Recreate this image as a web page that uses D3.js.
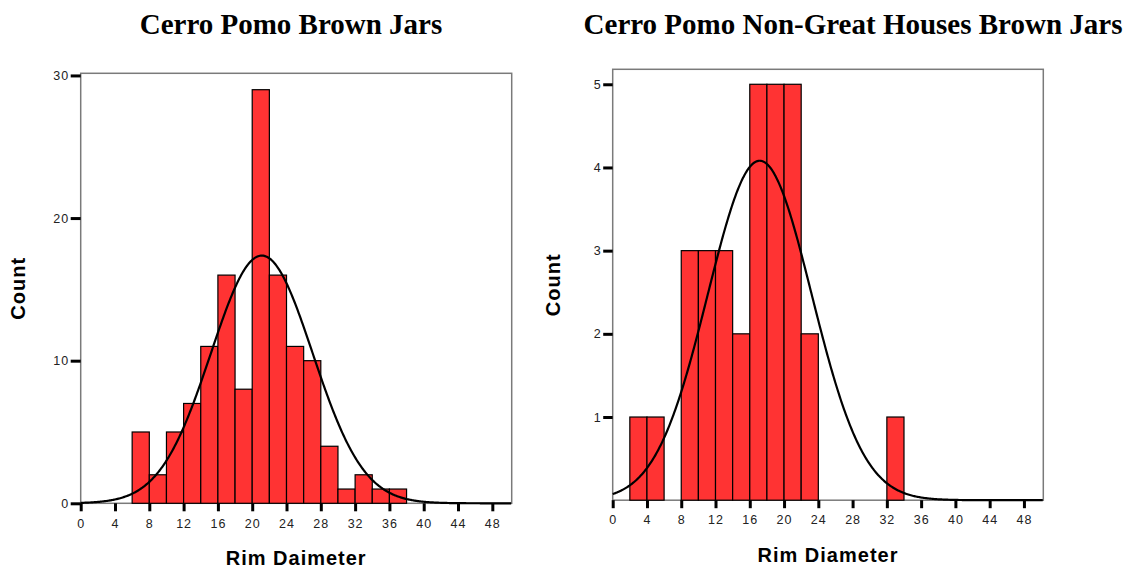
<!DOCTYPE html>
<html>
<head>
<meta charset="utf-8">
<script src="https://cdn.jsdelivr.net/npm/d3@7"></script>
<style>
  html, body { margin: 0; padding: 0; background: #fff; }
  svg { display: block; }
</style>
</head>
<body>
<svg id="chart" width="1129" height="568"></svg>
<script>
// Rim diameter histograms (2 cm bins, each bin covers (start, start + 2])
const binWidth = 2;

const allJarsBinStart = [6, 8, 10, 12, 14, 16, 18, 20, 22, 24, 26, 28, 30, 32, 34, 36];
const allJarsCount    = [5, 2, 5, 7, 11, 16, 8, 29, 16, 11, 10, 4, 1, 2, 1, 1];

const nonGreatBinStart = [2, 4, 8, 10, 12, 14, 16, 18, 20, 22, 32];
const nonGreatCount    = [1, 1, 3, 3, 3, 2, 5, 5, 5, 2, 1];

const xTickValues = [0, 4, 8, 12, 16, 20, 24, 28, 32, 36, 40, 44, 48];
const allJarsYTicks = [0, 10, 20, 30];
const nonGreatYTicks = [1, 2, 3, 4, 5];

const titles = ["Cerro Pomo Brown Jars", "Cerro Pomo Non-Great Houses Brown Jars"];
const xLabels = ["Rim Daimeter", "Rim Diameter"];
const yLabel = "Count";

const svg = d3.select("#chart");

// Normal curve fitted to the binned cases, scaled to counts per bin
function normalFit(starts, counts) {
  const values = [];
  starts.forEach((s, i) => { for (let k = 0; k < counts[i]; k++) values.push(s + binWidth); });
  const n = values.length;
  const mean = d3.mean(values);
  const sd = d3.deviation(values);
  return x => n * binWidth * Math.exp(-0.5 * ((x - mean) / sd) ** 2) / (sd * Math.sqrt(2 * Math.PI));
}

function drawPanel(p) {
  const g = svg.append("g");
  const x = d3.scaleLinear().domain([0, p.xMax]).range([p.left, p.right]);
  const y = d3.scaleLinear().domain([0, p.yMax]).range([p.bottom, p.top]);

  // plot frame
  g.append("rect")
    .attr("x", p.left).attr("y", p.top)
    .attr("width", p.right - p.left).attr("height", p.bottom - p.top)
    .attr("fill", "none").attr("stroke", "#7a7a7a").attr("stroke-width", 1.5);

  // bars
  g.selectAll("rect.bar").data(p.starts).join("rect")
    .attr("class", "bar")
    .attr("x", d => x(d))
    .attr("width", d => x(d + binWidth) - x(d))
    .attr("y", (d, i) => y(p.counts[i]))
    .attr("height", (d, i) => y(0) - y(p.counts[i]))
    .attr("fill", "#ff3333")
    .attr("stroke", "#000")
    .attr("stroke-width", 1.2);

  // fitted normal curve
  const f = normalFit(p.starts, p.counts);
  const xs = d3.range(0, p.xMax + 0.001, 0.1);
  g.append("path")
    .datum(xs)
    .attr("fill", "none")
    .attr("stroke", "#000")
    .attr("stroke-width", 2.2)
    .attr("d", d3.line().x(d => x(d)).y(d => y(f(d))).curve(d3.curveLinear));

  // x axis ticks and labels
  const xAxis = g.append("g").attr("transform", `translate(0,${p.bottom})`)
    .call(d3.axisBottom(x).tickValues(xTickValues).tickSize(8).tickPadding(0).tickFormat(d3.format("d")));
  xAxis.select(".domain").remove();
  xAxis.selectAll(".tick line").attr("stroke", "#000").attr("stroke-width", 3);
  xAxis.selectAll(".tick text")
    .attr("y", p.xLabelBaseline - p.bottom).attr("dy", null)
    .attr("fill", "#222")
    .style("font-family", "'Liberation Sans', Arial, sans-serif")
    .style("font-size", "12.5px")
    .style("letter-spacing", "1px");

  // y axis ticks and labels
  const yAxis = g.append("g").attr("transform", `translate(${p.left},0)`)
    .call(d3.axisLeft(y).tickValues(p.yTicks).tickSize(p.yTickLen).tickPadding(1.5).tickFormat(d3.format("d")));
  yAxis.select(".domain").remove();
  yAxis.selectAll(".tick line").attr("stroke", "#000").attr("stroke-width", 3);
  yAxis.selectAll(".tick text")
    .attr("fill", "#222")
    .style("font-family", "'Liberation Sans', Arial, sans-serif")
    .style("font-size", "12.5px")
    .style("letter-spacing", "1px");

  // title
  svg.append("text")
    .attr("x", p.titleX).attr("y", 34)
    .attr("text-anchor", "middle")
    .style("font-family", "'Liberation Serif', 'Times New Roman', serif")
    .style("font-weight", "bold")
    .style("font-size", "29px")
    .attr("fill", "#000")
    .text(p.title);

  // axis titles
  svg.append("text")
    .attr("x", (p.left + p.right) / 2).attr("y", p.xTitleBaseline)
    .attr("text-anchor", "middle")
    .style("font-family", "'Liberation Sans', Arial, sans-serif")
    .style("font-weight", "bold")
    .style("font-size", "20px")
    .style("letter-spacing", "1px")
    .attr("fill", "#000")
    .text(p.xLabel);

  svg.append("text")
    .attr("transform", `translate(${p.yTitleX},${(p.top + p.bottom) / 2}) rotate(-90)`)
    .attr("text-anchor", "middle")
    .style("font-family", "'Liberation Sans', Arial, sans-serif")
    .style("font-weight", "bold")
    .style("font-size", "20px")
    .style("letter-spacing", "1px")
    .attr("fill", "#000")
    .text(yLabel);
}

drawPanel({
  left: 80.7, right: 511.7, top: 73.3, bottom: 503.3,
  xMax: 50.26, yMax: 30.15,
  starts: allJarsBinStart, counts: allJarsCount, yTicks: allJarsYTicks,
  yTickLen: 10, xLabelBaseline: 528, xTitleBaseline: 565, yTitleX: 25,
  title: titles[0], titleX: 291, xLabel: xLabels[0]
});

drawPanel({
  left: 612.7, right: 1043.3, top: 69.3, bottom: 500.2,
  xMax: 50.26, yMax: 5.18,
  starts: nonGreatBinStart, counts: nonGreatCount, yTicks: nonGreatYTicks,
  yTickLen: 9.5, xLabelBaseline: 523.8, xTitleBaseline: 561.5, yTitleX: 560,
  title: titles[1], titleX: 853, xLabel: xLabels[1]
});
</script>
</body>
</html>
